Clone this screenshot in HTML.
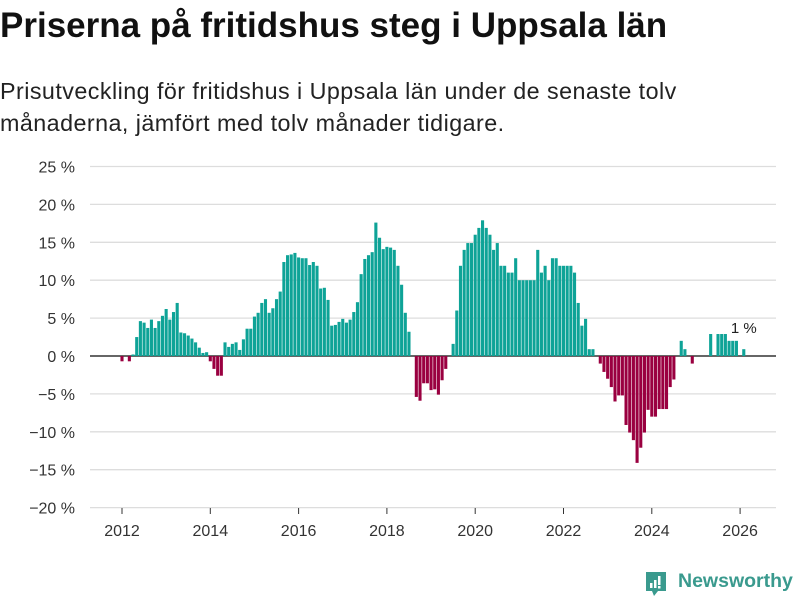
<!DOCTYPE html>
<html><head><meta charset="utf-8">
<style>
body{margin:0;background:#fff;width:800px;height:600px;overflow:hidden;font-family:"Liberation Sans",sans-serif;}
#title{position:absolute;left:0;top:6px;font-size:35px;font-weight:bold;color:#111;margin:0;letter-spacing:0px;white-space:nowrap}
#sub{position:absolute;left:0;top:75px;font-size:23.3px;letter-spacing:0.45px;line-height:32px;color:#222;margin:0;width:720px}
svg{position:absolute;left:0;top:0}
</style></head><body>
<h1 id="title">Priserna på fritidshus steg i Uppsala län</h1>
<p id="sub">Prisutveckling för fritidshus i Uppsala län under de senaste tolv<br>månaderna, jämfört med tolv månader tidigare.</p>
<svg id="chart" width="800" height="600"></svg>
<div style="position:absolute;left:644px;top:570px;height:28px;">
<svg width="26" height="30" style="position:absolute;left:0;top:0">
<path d="M2 2 H22 V21 H14 L10 26 L8 21 H2 Z" fill="#3a9a8e"/>
<rect x="6" y="13" width="2.5" height="5" fill="#fff"/><rect x="10" y="10" width="2.5" height="8" fill="#fff"/><rect x="14" y="6" width="2.5" height="9" fill="#fff"/><rect x="14" y="16" width="2.5" height="2.5" fill="#fff"/>
</svg>
<span style="position:absolute;left:34px;top:0px;font-size:19.5px;font-weight:bold;color:#3a9a8e;white-space:nowrap">Newsworthy</span>
</div>
<script>
const startYear = 2012;
const values = [-0.7,0,-0.7,0.2,2.5,4.6,4.4,3.7,4.8,3.7,4.6,5.3,6.2,4.8,5.8,7.0,3.1,3.0,2.7,2.3,1.8,1.1,0.4,0.5,
-0.7,-1.7,-2.6,-2.6,1.8,1.2,1.6,1.8,0.8,2.2,3.6,3.6,5.2,5.7,7.0,7.5,5.7,6.3,7.5,8.5,12.4,13.3,13.4,13.6,
13.0,12.9,12.9,12.0,12.4,11.9,8.9,9.0,7.4,4.0,4.1,4.5,4.9,4.4,4.8,5.8,7.1,10.8,12.8,13.3,13.7,17.6,15.6,14.1,
14.4,14.3,14.0,11.9,9.4,5.7,3.2,0,-5.4,-5.9,-3.6,-3.6,-4.5,-4.4,-5.1,-3.2,-1.7,0,1.6,6.0,11.9,14.0,14.9,14.9,
16.0,16.9,17.9,16.9,16.0,14.0,14.9,11.9,11.9,11.0,11.0,12.9,10.0,10.0,10.0,10.0,10.0,14.0,11.0,11.9,10.0,12.9,
12.9,11.9,11.9,11.9,11.9,11.0,7.0,4.0,4.9,0.9,0.9,0,-1.0,-2.1,-3.0,-4.1,-6.0,-5.2,-5.2,-9.1,-10.1,-11.1,
-14.1,-12.1,-10.1,-7.1,-8.0,-8.0,-7.0,-7.0,-7.0,-4.1,-3.1,0,2.0,0.9,0,-1.0,0,0,0,0,2.9,0,2.9,2.9,2.9,2.0,2.0,2.0,0,0.9];
const yTicks = [25,20,15,10,5,0,-5,-10,-15,-20];
const xTicks = [2012,2014,2016,2018,2020,2022,2024,2026];
const lastLabel = "1 %";

const svg = document.getElementById('chart');
const NS = 'http://www.w3.org/2000/svg';
const yScale = v => 356 - v * 7.58;
const xScale = yr => 122 + (yr - 2012) * 44.15;
function mk(tag, attrs){const e=document.createElementNS(NS,tag);for(const k in attrs)e.setAttribute(k,attrs[k]);svg.appendChild(e);return e;}

yTicks.forEach(t=>{
  const g = mk('line',{x1:90,x2:776,y1:yScale(t),y2:yScale(t),stroke:t===0?'#333':'#ddd','stroke-width':t===0?1.6:1.3});
  
  
  const tx = mk('text',{x:75,y:yScale(t)+6,'text-anchor':'end','font-size':16,fill:'#333','font-family':'Liberation Sans, sans-serif'});
  tx.textContent = (t<0?'\u2212'+(-t):t)+' %';
  
  
});
xTicks.forEach(t=>{
  const tk = mk('line',{x1:xScale(t),x2:xScale(t),y1:508,y2:514,stroke:'#333','stroke-width':1});
  
  
  const tx = mk('text',{x:xScale(t),y:536,'text-anchor':'middle','font-size':16,fill:'#333','font-family':'Liberation Sans, sans-serif'});
  tx.textContent = t;
  
  
});
values.forEach((v,i)=>{
  if(v===0) return;
  const cx = xScale(startYear + i/12);
  const y0 = yScale(0), y1 = yScale(v);
  const r = mk('rect',{x:cx-1.55,width:3.1,y:Math.min(y0,y1),height:Math.abs(y1-y0),fill:v>0?'#0ea397':'#9a0040'});
  
  
});
const lastIdx = values.length-1;
const lbl = mk('text',{x:xScale(startYear+lastIdx/12),y:333,'text-anchor':'middle','font-size':15,fill:'#222','font-family':'Liberation Sans, sans-serif'});
lbl.textContent = lastLabel;


</script>
</body></html>
